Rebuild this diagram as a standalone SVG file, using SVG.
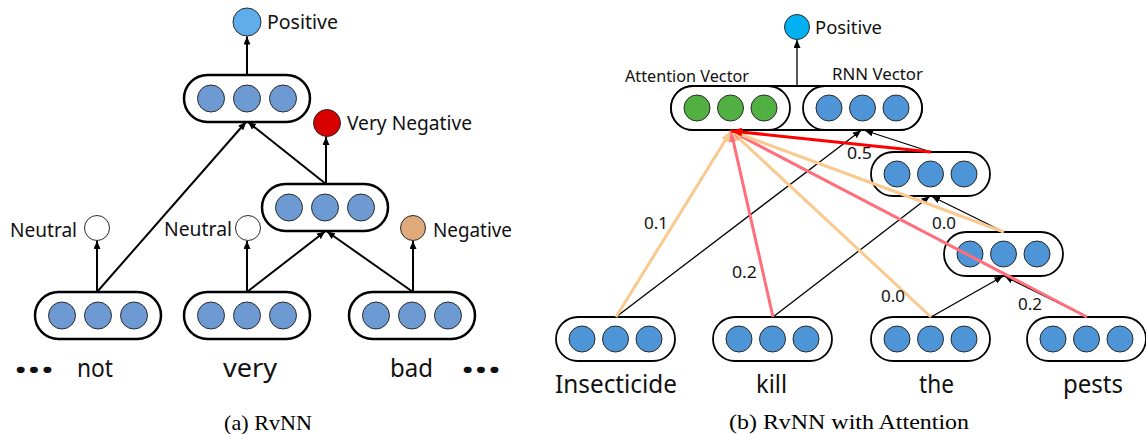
<svg xmlns="http://www.w3.org/2000/svg" width="1146" height="434" viewBox="0 0 1146 434">
<style>
.pillL{fill:#fff;stroke:#000;stroke-width:2.5}
.pillR{fill:#fff;stroke:#000;stroke-width:1.8}
.cL{fill:#6E9AD3;stroke:#2a2a2a;stroke-width:1}
.cR{fill:#4E95D8;stroke:#2a2a2a;stroke-width:1}
.cG{fill:#52B043;stroke:#2a2a2a;stroke-width:1}
.lab{font-family:"Noto Sans","Liberation Sans",sans-serif;fill:#111}
.word{font-family:"Noto Sans","Liberation Sans",sans-serif;fill:#111}
.cap{font-family:"Liberation Serif",serif;fill:#000;font-size:22px}
.ak{fill:none;stroke:#000;stroke-width:2}
.bk{fill:none;stroke:#000;stroke-width:1.3}
.pe{fill:none;stroke:#F9C98F;stroke-width:3}
.pk{fill:none;stroke:#FF6E7A;stroke-width:3}
.rd{fill:none;stroke:#FF0000;stroke-width:3.2}
</style>
<defs>
<marker id="mA" markerUnits="userSpaceOnUse" markerWidth="8" markerHeight="7" refX="8" refY="3.5" orient="auto"><path d="M0,0 L8,3.5 L0,7 z" fill="#000"/></marker>
<marker id="mB" markerUnits="userSpaceOnUse" markerWidth="8" markerHeight="7" refX="8" refY="3.5" orient="auto"><path d="M0,0 L8,3.5 L0,7 z" fill="#000"/></marker>
<marker id="mPe" markerUnits="userSpaceOnUse" markerWidth="11" markerHeight="9" refX="11" refY="4.5" orient="auto"><path d="M0,0 L11,4.5 L0,9 z" fill="#F9C98F"/></marker>
<marker id="mPk" markerUnits="userSpaceOnUse" markerWidth="11" markerHeight="9" refX="11" refY="4.5" orient="auto"><path d="M0,0 L11,4.5 L0,9 z" fill="#FF6E7A"/></marker>
<marker id="mRd" markerUnits="userSpaceOnUse" markerWidth="11" markerHeight="9" refX="11" refY="4.5" orient="auto"><path d="M0,0 L11,4.5 L0,9 z" fill="#FF0000"/></marker>
</defs>

<!-- ===== Left panel: RvNN ===== -->
<g id="l-positive">
<circle cx="247" cy="22" r="14" fill="#5FADEA" stroke="#2a2a2a" stroke-width="1"/>
<text class="lab" x="267" y="29" font-size="19" textLength="71" lengthAdjust="spacingAndGlyphs">Positive</text>
</g>
<g id="l-top">
<rect class="pillL" x="184" y="75" width="126" height="47" rx="23.5"/>
<circle class="cL" cx="211" cy="98.5" r="13.5"/><circle class="cL" cx="247" cy="98.5" r="13.5"/><circle class="cL" cx="283" cy="98.5" r="13.5"/>
</g>
<g id="l-verynegative">
<circle cx="327" cy="123" r="13.5" fill="#D80000" stroke="#2a2a2a" stroke-width="1"/>
<text class="lab" x="347" y="130" font-size="19" textLength="125" lengthAdjust="spacingAndGlyphs">Very Negative</text>
</g>
<g id="l-mid">
<rect class="pillL" x="262" y="184" width="126" height="47" rx="23.5"/>
<circle class="cL" cx="289" cy="207.5" r="13.5"/><circle class="cL" cx="325" cy="207.5" r="13.5"/><circle class="cL" cx="361" cy="207.5" r="13.5"/>
</g>
<g id="l-neutral1">
<circle cx="97" cy="228" r="12.5" fill="#fff" stroke="#2a2a2a" stroke-width="1"/>
<text class="lab" x="10" y="237" font-size="19" textLength="67" lengthAdjust="spacingAndGlyphs">Neutral</text>
</g>
<g id="l-neutral2">
<circle cx="248" cy="228" r="12.5" fill="#fff" stroke="#2a2a2a" stroke-width="1"/>
<text class="lab" x="164" y="236" font-size="19" textLength="68" lengthAdjust="spacingAndGlyphs">Neutral</text>
</g>
<g id="l-negative">
<circle cx="413" cy="228" r="12.5" fill="#E0A97C" stroke="#2a2a2a" stroke-width="1"/>
<text class="lab" x="433" y="237" font-size="19" textLength="79" lengthAdjust="spacingAndGlyphs">Negative</text>
</g>
<g id="l-not">
<rect class="pillL" x="35" y="292" width="126" height="47" rx="23.5"/>
<circle class="cL" cx="62" cy="315.5" r="13.5"/><circle class="cL" cx="98" cy="315.5" r="13.5"/><circle class="cL" cx="134" cy="315.5" r="13.5"/>
<text class="word" x="77" y="377" font-size="26" textLength="36" lengthAdjust="spacingAndGlyphs">not</text>
</g>
<g id="l-very">
<rect class="pillL" x="184" y="292" width="126" height="47" rx="23.5"/>
<circle class="cL" cx="211" cy="315.5" r="13.5"/><circle class="cL" cx="247" cy="315.5" r="13.5"/><circle class="cL" cx="283" cy="315.5" r="13.5"/>
<text class="word" x="223" y="377" font-size="26" textLength="54" lengthAdjust="spacingAndGlyphs">very</text>
</g>
<g id="l-bad">
<rect class="pillL" x="349" y="292" width="126" height="47" rx="23.5"/>
<circle class="cL" cx="376" cy="315.5" r="13.5"/><circle class="cL" cx="412" cy="315.5" r="13.5"/><circle class="cL" cx="448" cy="315.5" r="13.5"/>
<text class="word" x="390" y="377" font-size="26" textLength="43" lengthAdjust="spacingAndGlyphs">bad</text>
</g>
<g id="l-dots">
<text class="word" x="14" y="379" font-size="26" textLength="40" lengthAdjust="spacingAndGlyphs">•••</text>
<text class="word" x="461" y="379" font-size="26" textLength="40" lengthAdjust="spacingAndGlyphs">•••</text>
</g>
<text class="cap" x="224" y="430" textLength="88" lengthAdjust="spacingAndGlyphs">(a) RvNN</text>

<g id="l-connectors">
<line class="ak" x1="247" y1="75" x2="247" y2="36.5" marker-end="url(#mA)"/>
<line class="ak" x1="97" y1="292" x2="246" y2="122" marker-end="url(#mA)"/>
<line class="ak" x1="326" y1="184" x2="248" y2="122" marker-end="url(#mA)"/>
<line class="ak" x1="326" y1="184" x2="326" y2="137" marker-end="url(#mA)"/>
<line class="ak" x1="97" y1="292" x2="97" y2="241" marker-end="url(#mA)"/>
<line class="ak" x1="247" y1="292" x2="247" y2="241" marker-end="url(#mA)"/>
<line class="ak" x1="247" y1="292" x2="325" y2="231.5" marker-end="url(#mA)"/>
<line class="ak" x1="413" y1="292" x2="327" y2="231.5" marker-end="url(#mA)"/>
<line class="ak" x1="413" y1="292" x2="413" y2="241" marker-end="url(#mA)"/>
</g>

<!-- ===== Right panel: RvNN with Attention ===== -->
<g id="r-positive">
<circle cx="797" cy="27" r="12.5" fill="#00B0F0" stroke="#2a2a2a" stroke-width="1"/>
<text class="lab" x="815" y="34" font-size="18" textLength="67" lengthAdjust="spacingAndGlyphs">Positive</text>
</g>
<g id="r-root">
<rect class="pillR" x="671" y="86" width="251" height="44" rx="22"/>
<rect class="pillR" x="671" y="86" width="119" height="44" rx="22"/>
<rect class="pillR" x="803" y="86" width="119" height="44" rx="22"/>
<circle class="cG" cx="697" cy="108" r="13"/><circle class="cG" cx="730.5" cy="108" r="13"/><circle class="cG" cx="764" cy="108" r="13"/>
<circle class="cR" cx="829" cy="108" r="13"/><circle class="cR" cx="862.5" cy="108" r="13"/><circle class="cR" cx="896" cy="108" r="13"/>
<text class="lab" x="625" y="82" font-size="16" textLength="124" lengthAdjust="spacingAndGlyphs">Attention Vector</text>
<text class="lab" x="832" y="80" font-size="16" textLength="91" lengthAdjust="spacingAndGlyphs">RNN Vector</text>
</g>
<g id="r-nodeA">
<rect class="pillR" x="871" y="152" width="119" height="44" rx="22"/>
<circle class="cR" cx="897" cy="174" r="13"/><circle class="cR" cx="930.5" cy="174" r="13"/><circle class="cR" cx="964" cy="174" r="13"/>
</g>
<g id="r-nodeB">
<rect class="pillR" x="944" y="232" width="119" height="44" rx="22"/>
<circle class="cR" cx="970" cy="254" r="13"/><circle class="cR" cx="1003.5" cy="254" r="13"/><circle class="cR" cx="1037" cy="254" r="13"/>
</g>
<g id="r-insecticide">
<rect class="pillR" x="556" y="317" width="119" height="44" rx="22"/>
<circle class="cR" cx="582" cy="339" r="13"/><circle class="cR" cx="615.5" cy="339" r="13"/><circle class="cR" cx="649" cy="339" r="13"/>
<text class="word" x="555" y="393" font-size="25" textLength="122" lengthAdjust="spacingAndGlyphs">Insecticide</text>
</g>
<g id="r-kill">
<rect class="pillR" x="713" y="317" width="119" height="44" rx="22"/>
<circle class="cR" cx="739" cy="339" r="13"/><circle class="cR" cx="772.5" cy="339" r="13"/><circle class="cR" cx="806" cy="339" r="13"/>
<text class="word" x="756" y="393" font-size="25" textLength="31" lengthAdjust="spacingAndGlyphs">kill</text>
</g>
<g id="r-the">
<rect class="pillR" x="871" y="317" width="119" height="44" rx="22"/>
<circle class="cR" cx="897" cy="339" r="13"/><circle class="cR" cx="930.5" cy="339" r="13"/><circle class="cR" cx="964" cy="339" r="13"/>
<text class="word" x="919" y="393" font-size="25" textLength="35" lengthAdjust="spacingAndGlyphs">the</text>
</g>
<g id="r-pests">
<rect class="pillR" x="1027" y="317" width="119" height="44" rx="22"/>
<circle class="cR" cx="1053" cy="339" r="13"/><circle class="cR" cx="1086.5" cy="339" r="13"/><circle class="cR" cx="1120" cy="339" r="13"/>
<text class="word" x="1063" y="393" font-size="25" textLength="60" lengthAdjust="spacingAndGlyphs">pests</text>
</g>
<text class="cap" x="729" y="429" textLength="240" lengthAdjust="spacingAndGlyphs">(b) RvNN with Attention</text>

<g id="r-connectors">
<line class="bk" x1="797" y1="86" x2="797" y2="40" marker-end="url(#mB)"/>
<line class="bk" x1="616" y1="317" x2="861" y2="130.5" marker-end="url(#mB)"/>
<line class="bk" x1="931" y1="152" x2="865" y2="130.5" marker-end="url(#mB)"/>
<line class="bk" x1="773" y1="317" x2="929.5" y2="196.5" marker-end="url(#mB)"/>
<line class="bk" x1="1004" y1="232" x2="932" y2="196.5" marker-end="url(#mB)"/>
<line class="bk" x1="931" y1="317" x2="1002.5" y2="276.5" marker-end="url(#mB)"/>
<line class="bk" x1="1087" y1="317" x2="1005" y2="276.5" marker-end="url(#mB)"/>
<line class="pe" x1="616" y1="317" x2="731" y2="131" marker-end="url(#mPe)"/>
<line class="pk" x1="773" y1="317" x2="731" y2="131" marker-end="url(#mPk)"/>
<line class="pe" x1="931" y1="317" x2="731" y2="131" marker-end="url(#mPe)"/>
<line class="pk" x1="1087" y1="317" x2="731" y2="131" marker-end="url(#mPk)"/>
<line class="pe" x1="1004" y1="232" x2="731" y2="131" marker-end="url(#mPe)"/>
<line class="rd" x1="931" y1="152" x2="731" y2="131" marker-end="url(#mRd)"/>
</g>
<g id="r-weights" class="lab" font-size="17">
<text x="847" y="159" textLength="25" lengthAdjust="spacingAndGlyphs">0.5</text>
<text x="932" y="229" textLength="24" lengthAdjust="spacingAndGlyphs">0.0</text>
<text x="644" y="229" textLength="24" lengthAdjust="spacingAndGlyphs">0.1</text>
<text x="732" y="278" textLength="25" lengthAdjust="spacingAndGlyphs">0.2</text>
<text x="881" y="302" textLength="24" lengthAdjust="spacingAndGlyphs">0.0</text>
<text x="1018" y="310" textLength="24" lengthAdjust="spacingAndGlyphs">0.2</text>
</g>
</svg>
